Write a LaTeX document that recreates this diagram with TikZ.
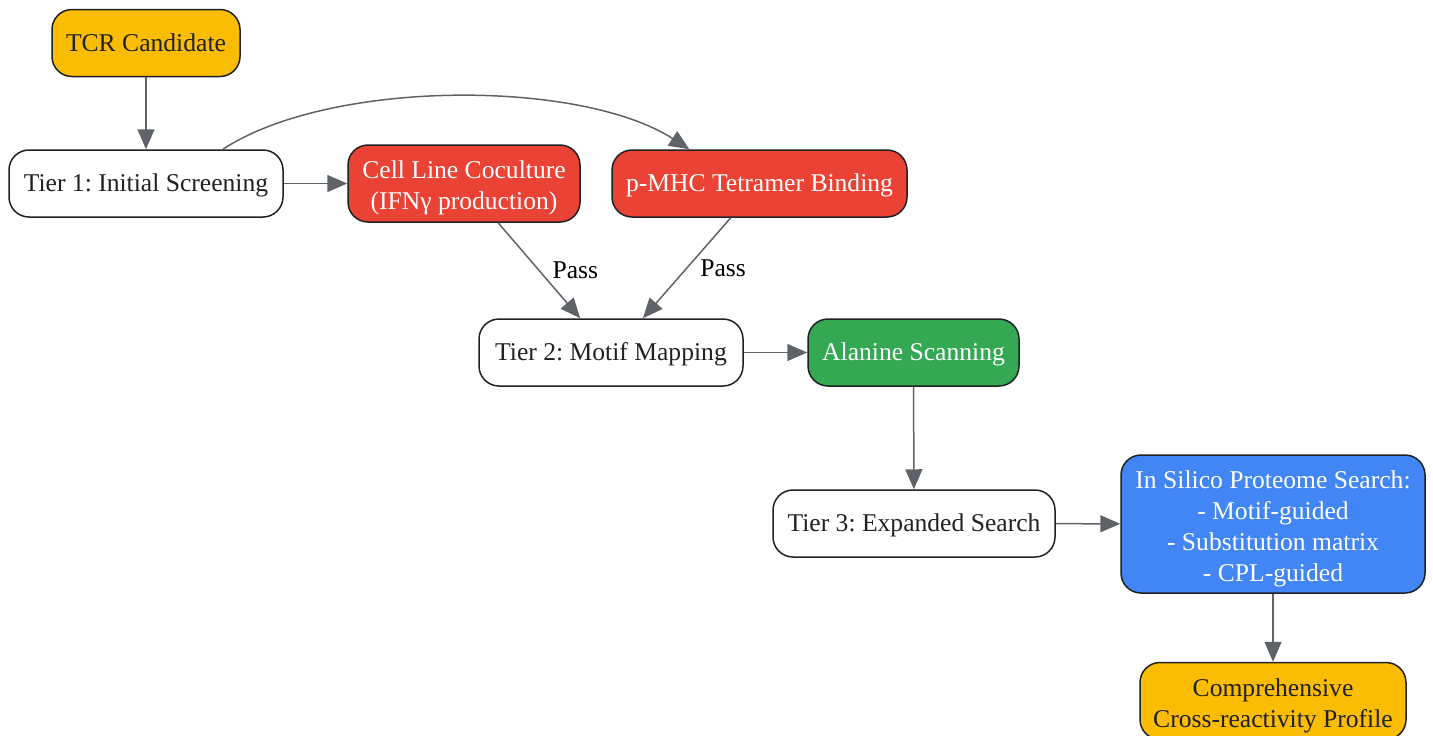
\documentclass[tikz,border=0pt]{standalone}
\usepackage{fontspec}
\setmainfont{Liberation Serif}
\usetikzlibrary{arrows.meta}
\frenchspacing

\definecolor{tcryellow}{HTML}{FBBC04}
\definecolor{assayred}{HTML}{EA4335}
\definecolor{scangreen}{HTML}{34A853}
\definecolor{searchblue}{HTML}{4285F4}
\definecolor{boxline}{HTML}{202124}
\definecolor{edgegray}{HTML}{5F6368}

% extra room above the first line of a multi-line box
\newcommand{\toppad}{\rule{0pt}{13.5pt}}

\begin{document}
\begin{tikzpicture}[x=0.5pt,y=-0.5pt]

    \tikzset{
      box/.style={
        draw=boxline,
        line width=0.75pt,
        rounded corners=10pt,
        align=center,
        inner sep=0pt,
        font=\fontsize{12.8}{15.5}\selectfont,
        minimum height=33.5pt,
        execute at begin node={\rule[-3pt]{0pt}{14.4pt}},
      },
      tierbox/.style={box, fill=white, text=boxline},
      endbox/.style={box, fill=tcryellow, text=boxline},
      assaybox/.style={box, fill=assayred, text=white},
      scanbox/.style={box, fill=scangreen, text=white},
      searchbox/.style={box, fill=searchblue, text=white},
      flow/.style={
        draw=edgegray,
        line width=0.75pt,
        -{Triangle[length=10pt,width=8.5pt]},
      },
      passlabel/.style={
        font=\fontsize{12.8}{15.5}\selectfont,
        text=black,
      },
    }
    \useasboundingbox (0,0) rectangle (1433,735);

    % nodes
    \node[endbox, minimum width=94pt] (tcr) at (146,43) {TCR Candidate};
    \node[tierbox, minimum width=137pt] (tier1) at (146,183.5) {Tier 1: Initial Screening};
    \node[assaybox, minimum width=116pt, minimum height=38.5pt] (cocult) at (464,183.5) {\toppad Cell Line Coculture\\(IFNγ production)};
    \node[assaybox, minimum width=147.5pt] (tetramer) at (759.5,183.5) {p-MHC Tetramer Binding};
    \node[tierbox, minimum width=132pt] (tier2) at (611,352.5) {Tier 2: Motif Mapping};
    \node[scanbox, minimum width=105.5pt] (alanine) at (913.5,352.5) {Alanine Scanning};
    \node[tierbox, minimum width=141pt] (tier3) at (914,523.5) {Tier 3: Expanded Search};
    \node[searchbox, minimum width=152pt, minimum height=69pt] (insilico) at (1273,524) {\toppad In Silico Proteome Search:\\- Motif-guided\\- Substitution matrix\\- CPL-guided};
    \node[endbox, minimum width=133pt, minimum height=38.5pt] (profile) at (1273,701) {\toppad Comprehensive\\Cross-reactivity Profile};

    % connectors
    \draw[flow] (tcr) -- (tier1);
    \draw[flow] (tier1) -- (cocult);
    \draw[flow] (tier1.24) .. controls (330,79) and (580,79) .. (tetramer.154);
    \draw[flow] (cocult.-49) -- node[passlabel, right=3pt] {Pass} (tier2.132);
    \draw[flow] (tetramer.-130) -- node[passlabel, right=3pt] {Pass} (tier2.47);
    \draw[flow] (tier2) -- (alanine);
    \draw[flow] (alanine) -- (tier3);
    \draw[flow] (tier3) -- (insilico);
    \draw[flow] (insilico) -- (profile);

\end{tikzpicture}
\end{document}
